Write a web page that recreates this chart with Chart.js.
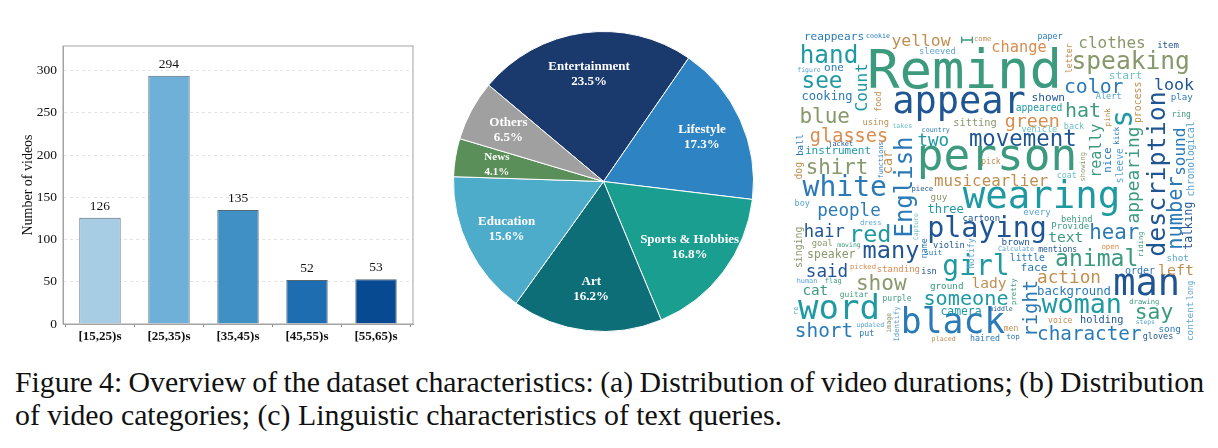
<!DOCTYPE html>
<html>
<head>
<meta charset="utf-8">
<script src="https://cdn.jsdelivr.net/npm/chart.js@4"></script>
<style>
  html, body { margin: 0; padding: 0; background: #fff; width: 1218px; height: 448px; overflow: hidden; }
  canvas { position: absolute; display: block; }
  #durations { left: 0; top: 0; }
  #topics { left: 453px; top: 31px; }
  #cloud { left: 790px; top: 20px; }
  #caption {
    position: absolute; left: 15px; top: 365px; width: 1203px; margin: 0;
    font: 29.8px/33px "Liberation Serif", serif; color: #111; white-space: nowrap;
  }
  #caption .tight { word-spacing: -1.15px; }
</style>
</head>
<body>
<canvas id="durations" width="420" height="360" style="width:420px;height:360px"></canvas>
<canvas id="topics" width="301" height="301" style="width:301px;height:301px"></canvas>
<canvas id="cloud" width="412" height="330" style="width:412px;height:330px"></canvas>
<p id="caption"><span class="tight">Figure 4: Overview of the dataset characteristics: (a) Distribution of video durations; (b) Distribution</span><br>of video categories; (c) Linguistic characteristics of text queries.</p>
<script>
// Video durations
const durationBins = ["[15,25)s", "[25,35)s", "[35,45)s", "[45,55)s", "[55,65)s"];
const durationCounts = [126, 294, 135, 52, 53];
const durationColors = ["#a6cde3", "#6fb0d8", "#4090c5", "#1f6db1", "#084a92"];

// Video categories
const categoryNames = ["Entertainment", "Lifestyle", "Sports & Hobbies", "Art", "Education", "News", "Others"];
const categoryShares = [23.5, 17.3, 16.8, 16.2, 15.6, 4.1, 6.5];
const categoryColors = ["#1a3a6e", "#2e84c2", "#1a9e8f", "#0e6e78", "#4dacca", "#5a8f5a", "#a0a0a0"];

// Query vocabulary: word, centre along the text, baseline, weight, colour key.
// Entries from cloudVerticalFrom onward run bottom to top.
const cloudWords = [
  "Remind","appear","person","wearing","man","black","word","white","woman","playing",
  "girl","speaking","hand","many","red","animal","see","movement","say","show",
  "blue","shirt","hear","hat","someone","color","short","character","glasses","green",
  "action","two","said","people","hair","yellow","clothes","look","change","music",
  "earlier","left","lady","text","cat","background","three","cooking","speaker","camera",
  "start","reappears","one","shown","face","instrument","holding","sitting","order","little",
  "appeared","brown","song","shot","ground","guy","every","play","item","Provide",
  "standing","cartoon","goal","violin","using","sleeved","isn","behind","Alert","gloves",
  "boy","vehicle","back","paper","haired","coat","purple","mentions","voice","ring",
  "men","pick","guitar","top","open","come","dress","piece","picked","suit",
  "flag","drawing","jacket","human","cookie","country","placed","Calculate","updated","takes",
  "moving","figure","middle","steps","put",
  "English","description","appearing","s","number","right","Count","sound","really","car",
  "chronological","talking","process","singing","food","sleeve","nice","ball","dog","letter",
  "functions","showing","pink","kick","name","Notify","Capture","Identify","image","re",
  "pretty","long","content","riding","I"
];
const cloudVerticalFrom = 115;
const cloudX = [
  964.5,959,997,1041.5,1146.7,953,839,844.7,1081.7,987,
  976,1130.7,829,891,870.3,1096.7,822,1022.8,1154,881.3,
  824.7,837,1114.3,1083,966,1093.7,824,1089.3,849,1032.3,
  1069,933.3,827,849,824.3,921,1112,1174,1019,957.7,
  1015,1176,989,1065.7,815.3,1074,945.7,827,831.3,961,
  1125.7,834,834,1048.3,1034,838,1101.7,975,1140,1027.3,
  1039,1015.7,1169.7,1177.7,946.7,939,1037,1181.7,1168,1070.3,
  898.3,981.3,822.3,949,875.7,937.3,929,1076.7,1108.7,1158,
  802.3,1039.3,1074,1050,985,1066.7,897,1057.7,1060.3,1181.3,
  1011,991,854,1013,1110.3,982.7,870.7,922.3,863,933.3,
  833.3,1144.3,840.7,807,878,935.7,943.7,1016,870.3,902.3,
  849,809,1001,1145.3,866.7,
  912,1165,1139,1131.7,1181.7,1036.7,866.7,1185,1101,892,
  1194.3,1191.7,1140.7,801.7,880.7,1122.7,1111,802.7,802,1071.7,
  882.7,1085.3,1110,1119,926.7,974.3,917.7,898.7,891,798,
  1016,1192.7,1192.7,1142.7,973
];
const cloudY = [
  88.3,113.3,170,208.3,295,333.3,319.3,196,313.3,237.3,
  275,69.3,62.7,258.3,241.7,266,88.3,146,319,290,
  123.3,174,239.3,116.7,305,92.7,337.3,340,141.7,127.3,
  283.3,146,276.7,216,237.3,46,48.3,90,51.7,186,
  186,275,288.3,242.3,295,295,213.3,100,257.7,315,
  79.3,40,70.7,101,270.7,154.3,323.3,125.7,274,260.7,
  110.7,245,331.7,261.3,289,200,215.3,100,47.7,228.7,
  271.7,220.7,245.7,247.7,125,53.7,274.3,221.7,98.7,338.7,
  206,132,128.7,39,340.7,178,300.7,251.7,323.3,117.3,
  330.7,164,297.3,338.7,248.7,41,225,191,269,255,
  282.7,304,146,282.7,37.7,131.7,341,251,326.7,127.7,
  247.3,71.7,310.7,324,336,
  187,174,175,118.7,213,308.3,87.3,151.7,150.7,162,
  159,225.7,102.3,247.3,101.7,165.7,160,145,170.7,58.3,
  160,166.7,117.3,135.7,248.3,253.3,226.7,324,322.7,310.7,
  291.7,290.3,321.3,244.3,40
];
const cloudWeights = [
  54,37,44.4,37.4,37,34.7,34,28,26.7,28.4,
  28,24.6,24.3,23.6,23.5,23.1,22.8,22.4,21.3,21.1,
  21,20.8,20.8,20,20.2,19.8,19.4,19.3,18.6,18.3,
  17.7,17.6,17.6,17.6,17.1,16.4,16,16.7,15.3,15.8,
  15.8,14.9,14.6,14.6,14.3,12.3,12.1,12.1,11.5,11.4,
  11.2,11.1,11.1,11.1,11.3,11,10.3,10.3,10,9.7,
  9.7,9.4,9.4,9.3,9.3,9.3,9.2,9.2,9,9,
  9,8.9,8.8,8.8,8.8,8.7,8.7,8.7,8.6,8.5,
  8.5,8.5,8.5,8.4,8.3,8.3,8,8.1,8.1,8,
  8,8,7.9,7.5,7.4,7.2,7.2,7.2,7.2,7.5,
  7,7.1,6.9,6.9,6.7,6.7,6.7,6.7,6.6,6.6,
  6.5,6.5,6.5,6.4,8.3,
  24,25,17.9,30,20.4,18.9,16.1,16,15,13.5,
  9.6,11.4,9.9,9.9,8.5,9.7,10.5,9,9.8,8.3,
  6.8,7,7.6,7.6,8.3,8.3,6.4,7.3,6.7,7,
  7.4,8,9.4,7.1,16
];
const cloudTones =
  "eaedabdbda" + "dfdadedaef" + "ffbedbbbhh" + "gdabagfahg" +
  "gggeebdbfd" + "ibbabdafbb" + "dabcefcbae" + "hafagcaeca" +
  "ciibbieage" + "ggebhgcahb" + "eeacbbgcci" + "ecacb" +
  "baedbbdbeg" + "cagfgcbbgg" + "bfgbbcicfc" + "ecceed";
const tonePalette = {
  a: "#1f5593", b: "#2b7ab8", c: "#5ba3d0", d: "#1f9aa3", e: "#3c9a7f",
  f: "#87986a", g: "#bf8f50", h: "#d98c4e", i: "#6cc0c8"
};

const serif = '"Liberation Serif", serif';
Chart.defaults.animation = false;
Chart.defaults.plugins.legend.display = false;
Chart.defaults.plugins.tooltip.enabled = false;

// Bar chart: frame around the plot and a count above each bar
const barDecor = {
  id: "barDecor",
  afterDatasetsDraw(chart) {
    const { ctx, chartArea: a } = chart;
    ctx.save();
    ctx.strokeStyle = "#a3a3a3";
    ctx.lineWidth = 1;
    ctx.strokeRect(a.left, a.top, a.right - a.left, a.bottom - a.top);
    ctx.fillStyle = "#111";
    ctx.font = "13.5px " + serif;
    ctx.textAlign = "center";
    ctx.textBaseline = "alphabetic";
    chart.getDatasetMeta(0).data.forEach((bar, i) => {
      ctx.fillText(String(durationCounts[i]), bar.x, bar.y - 8);
    });
    ctx.restore();
  }
};

new Chart(document.getElementById("durations"), {
  type: "bar",
  data: {
    datasets: [{
      data: durationCounts.map((y, x) => ({ x, y })),
      backgroundColor: durationColors,
      borderColor: "rgba(70,85,100,0.9)",
      borderWidth: 1,
      barPercentage: 0.6,
      categoryPercentage: 1
    }]
  },
  options: {
    responsive: false,
    layout: { padding: { top: 46, right: 7, left: 0, bottom: 0 } },
    scales: {
      x: {
        type: "linear",
        offset: false,
        min: -0.536,
        max: 4.536,
        afterFit(axis) { axis.height = 36; },
        afterBuildTicks(axis) { axis.ticks = durationBins.map((_, value) => ({ value })); },
        grid: { drawOnChartArea: false, tickLength: 3, tickColor: "#888" },
        border: { color: "#a3a3a3" },
        ticks: {
          autoSkip: false, maxRotation: 0, padding: 2, color: "#111",
          font: { family: serif, size: 13, weight: "bold" },
          callback: v => durationBins[v]
        }
      },
      y: {
        min: 0,
        max: 329.3,
        afterFit(axis) { axis.width = 63; },
        grid: { color: "#e4e4e4", tickColor: "transparent", tickLength: 3 },
        border: { color: "#a3a3a3", dash: [3, 3] },
        ticks: {
          stepSize: 50, includeBounds: false, padding: 3, color: "#111",
          font: { family: serif, size: 13.5 }
        },
        title: {
          display: true, text: "Number of videos", color: "#111",
          padding: { top: 20, bottom: 0 },
          font: { family: serif, size: 14 }
        }
      }
    }
  },
  plugins: [barDecor]
});

// Pie chart: name and share inside each slice
const pieLabels = {
  id: "pieLabels",
  afterDatasetsDraw(chart) {
    const { ctx } = chart;
    ctx.save();
    ctx.fillStyle = "#fff";
    ctx.textAlign = "center";
    ctx.textBaseline = "middle";
    chart.getDatasetMeta(0).data.forEach((arc, i) => {
      const mid = (arc.startAngle + arc.endAngle) / 2;
      const r = arc.outerRadius * 0.72;
      const x = arc.x + Math.cos(mid) * r;
      const y = arc.y + Math.sin(mid) * r;
      const size = categoryNames[i] === "News" ? 11 : 13;
      ctx.font = "bold " + size + "px " + serif;
      ctx.fillText(categoryNames[i], x, y - 7.5);
      ctx.fillText(categoryShares[i].toFixed(1) + "%", x, y + 7.5);
    });
    ctx.restore();
  }
};

new Chart(document.getElementById("topics"), {
  type: "pie",
  data: {
    labels: categoryNames,
    datasets: [{
      data: categoryShares,
      backgroundColor: categoryColors,
      borderColor: "#fff",
      borderWidth: 1
    }]
  },
  options: { responsive: false, rotation: 310, layout: { padding: 0 } },
  plugins: [pieLabels]
});

// Word cloud: one invisible scatter point per word, text set at that point
const cloudText = {
  id: "cloudText",
  afterDatasetsDraw(chart) {
    const { ctx, scales } = chart;
    ctx.save();
    ctx.textAlign = "center";
    ctx.textBaseline = "alphabetic";
    cloudWords.forEach((word, i) => {
      ctx.save();
      ctx.translate(scales.x.getPixelForValue(cloudX[i]), scales.y.getPixelForValue(cloudY[i]));
      if (i >= cloudVerticalFrom) ctx.rotate(-Math.PI / 2);
      ctx.font = cloudWeights[i] + 'px "DejaVu Sans Mono", monospace';
      ctx.fillStyle = tonePalette[cloudTones[i]];
      ctx.fillText(word, 0, 0);
      ctx.restore();
    });
    ctx.restore();
  }
};

new Chart(document.getElementById("cloud"), {
  type: "scatter",
  data: { datasets: [{ data: cloudWords.map((_, i) => ({ x: cloudX[i], y: cloudY[i] })), pointRadius: 0 }] },
  options: {
    responsive: false,
    layout: { padding: 0 },
    scales: {
      x: { display: false, min: 790, max: 1202 },
      y: { display: false, min: 20, max: 350, reverse: true }
    }
  },
  plugins: [cloudText]
});
</script>
</body>
</html>
